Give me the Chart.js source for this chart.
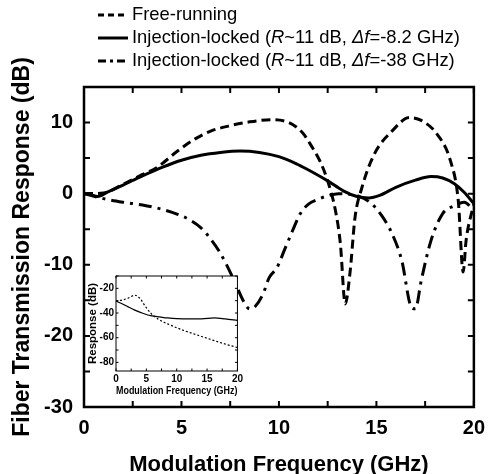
<!DOCTYPE html>
<html>
<head>
<meta charset="utf-8">
<script src="https://cdn.jsdelivr.net/npm/chart.js@4.4.1/dist/chart.umd.min.js"></script>
<style>
  body { margin: 0; background: #fff; }
  #wrap { position: relative; width: 494px; height: 474px; }
  #inset { position: absolute; left: 80px; top: 268px; }
</style>
</head>
<body>
<div id="wrap">
  <canvas id="main" width="494" height="474"></canvas>
  <canvas id="inset" width="165" height="130"></canvas>
</div>
<script>
// main panel: fiber transmission response, dB vs GHz
const freeFreq = [0, 1, 2, 3, 3.7, 4.8, 5.7, 6.5, 7.4, 8.5, 9.7, 10.5, 11.2, 11.6, 12.1, 12.5, 12.9, 13.15, 13.4, 13.65, 13.9, 14.25, 14.9, 15.8, 16.7, 17.3, 18.1, 18.8, 19.2, 19.45, 19.6, 19.95, 20];
const freeDb = [0, 0.1, 1.3, 2.7, 3.6, 6.0, 7.7, 8.8, 9.5, 10.1, 10.4, 10.0, 8.6, 7.0, 4.6, 1.8, -2.4, -7.0, -15.5, -11.0, -3.4, 0.8, 5.6, 8.8, 10.7, 10.3, 8.4, 4.6, -1.0, -11.0, -6.6, -2.0, -1.5];

const lockAFreq = [0, 0.3, 0.7, 1.2, 2, 3, 4, 5, 6, 7, 8, 9, 10, 10.9, 11.4, 12.5, 13.3, 14.0, 14.6, 15.2, 16, 17, 17.8, 18.4, 19, 19.5, 20];
const lockADb = [0, -0.1, -0.4, 0.2, 1.2, 2.5, 3.7, 4.7, 5.4, 5.8, 6.0, 5.8, 5.2, 4.2, 3.5, 1.8, 0.4, -0.4, -0.6, -0.2, 0.9, 1.9, 2.4, 2.2, 1.4, 0.2, -1.4];

const lockBFreq = [0, 1, 2, 3, 4, 4.8, 5.5, 6, 6.5, 7, 7.7, 8.2, 8.5, 8.8, 9.2, 9.5, 9.9, 10.3, 10.7, 11.1, 11.5, 12, 12.5, 13.05, 13.6, 14.05, 14.75, 15.3, 15.8, 16.3, 16.8, 17.0, 17.3, 17.8, 18.4, 19, 19.5, 20];
const lockBDb = [0, -0.7, -1.2, -1.6, -2.2, -2.9, -3.8, -4.8, -6.4, -8.4, -12.2, -15.2, -16.2, -15.8, -14.0, -11.8, -10.4, -7.8, -5.2, -2.8, -1.5, -0.8, -0.3, 0, -0.1, -0.3, -1.4, -3.2, -5.6, -9.4, -16.0, -16.2, -12.2, -6.6, -2.8, -1.7, -1.2, -2.4];

const xTickLabels = [0, 5, 10, 15, 20];
const yTickLabels = [10, 0, -10, -20, -30];

// inset: response (dB) vs GHz
const insetFreeFreq = [0, 1, 2, 3.1, 4.0, 4.8, 5.8, 6.9, 8.5, 11.3, 13.5, 15.7, 18.2, 20];
const insetFreeDb = [-30.4, -29.5, -28.0, -25.6, -28.5, -34.4, -40.5, -44.8, -48.8, -54.4, -58.0, -61.6, -65.5, -68.0];
const insetLockFreq = [0, 1, 2, 3.1, 4.4, 5.9, 7.2, 8.5, 10, 12.5, 14.1, 16.2, 18, 20];
const insetLockDb = [-30.4, -32.5, -35.0, -37.6, -40.2, -42.4, -43.2, -44.0, -44.6, -44.8, -44.8, -44.0, -44.8, -46.0];

const insetXTickLabels = [0, 5, 10, 15, 20];
const insetYTickLabels = [-20, -40, -60, -80];

const legendParts = [
  [['Free-running', false]],
  [['Injection-locked (', false], ['R', true], ['~11 dB, ', false], ['\u0394f', true], ['=-8.2 GHz)', false]],
  [['Injection-locked (', false], ['R', true], ['~11 dB, ', false], ['\u0394f', true], ['=-38 GHz)', false]]
];

Chart.defaults.color = '#000';
Chart.defaults.font.family = '"Liberation Sans", Arial, sans-serif';

function pts(xs, ys) {
  return xs.map((x, i) => ({ x: x, y: ys[i] }));
}

// box round the plot area, with inward ticks on all four sides
const framePlugin = {
  id: 'frame',
  beforeDatasetsDraw(chart, args, opts) {
    if (!opts.fill) return;
    const a = chart.chartArea;
    chart.ctx.save();
    chart.ctx.fillStyle = '#fff';
    chart.ctx.fillRect(a.left, a.top, a.right - a.left, a.bottom - a.top);
    chart.ctx.restore();
  },
  afterDatasetsDraw(chart, args, opts) {
    const ctx = chart.ctx;
    const a = chart.chartArea;
    const sx = chart.scales.x;
    const sy = chart.scales.y;
    ctx.save();
    ctx.strokeStyle = '#000';
    ctx.lineWidth = opts.tickWidth;
    ctx.beginPath();
    sx.ticks.forEach(t => {
      if (Math.abs(t.value / opts.xStep - Math.round(t.value / opts.xStep)) > 1e-6) return;
      const px = sx.getPixelForValue(t.value);
      ctx.moveTo(px, a.bottom);
      ctx.lineTo(px, a.bottom - opts.len);
      ctx.moveTo(px, a.top);
      ctx.lineTo(px, a.top + opts.len);
    });
    sy.ticks.forEach(t => {
      if (Math.abs(t.value / opts.yStep - Math.round(t.value / opts.yStep)) > 1e-6) return;
      const py = sy.getPixelForValue(t.value);
      ctx.moveTo(a.left, py);
      ctx.lineTo(a.left + opts.len, py);
      ctx.moveTo(a.right, py);
      ctx.lineTo(a.right - opts.len, py);
    });
    ctx.stroke();
    ctx.lineWidth = opts.width;
    ctx.strokeRect(a.left, a.top, a.right - a.left, a.bottom - a.top);
    ctx.restore();
  }
};

// legend above the plot, with italic R and delta-f
const legendPlugin = {
  id: 'paperLegend',
  afterDraw(chart, args, opts) {
    if (!opts.show) return;
    const ctx = chart.ctx;
    chart.data.datasets.forEach((ds, i) => {
      const y = opts.top + i * opts.row;
      ctx.save();
      ctx.strokeStyle = '#000';
      ctx.lineWidth = ds.borderWidth;
      ctx.setLineDash(opts.dashes[i]);
      ctx.beginPath();
      ctx.moveTo(opts.left, y);
      ctx.lineTo(opts.left + opts.sample, y);
      ctx.stroke();
      ctx.setLineDash([]);
      ctx.fillStyle = '#000';
      ctx.textBaseline = 'middle';
      let x = opts.left + opts.sample + 4;
      legendParts[i].forEach(p => {
        ctx.font = (p[1] ? 'italic ' : '') + opts.size + 'px "Liberation Sans", Arial, sans-serif';
        ctx.fillText(p[0], x, y);
        x += ctx.measureText(p[0]).width;
      });
      ctx.restore();
    });
  }
};

const mainChart = new Chart(document.getElementById('main'), {
  type: 'line',
  data: {
    datasets: [{
      label: 'Free-running',
      data: pts(freeFreq, freeDb),
      borderColor: '#000',
      borderWidth: 3,
      borderDash: [9, 5],
      pointRadius: 0,
      cubicInterpolationMode: 'monotone'
    }, {
      label: 'Injection-locked (R~11 dB, \u0394f=-8.2 GHz)',
      data: pts(lockAFreq, lockADb),
      borderColor: '#000',
      borderWidth: 3,
      pointRadius: 0,
      cubicInterpolationMode: 'monotone'
    }, {
      label: 'Injection-locked (R~11 dB, \u0394f=-38 GHz)',
      data: pts(lockBFreq, lockBDb),
      borderColor: '#000',
      borderWidth: 3,
      borderDash: [13, 6, 3, 6],
      pointRadius: 0,
      cubicInterpolationMode: 'monotone'
    }]
  },
  options: {
    responsive: false,
    animation: false,
    layout: { padding: { top: 87, right: 13, left: 0, bottom: 0 } },
    scales: {
      x: {
        type: 'linear',
        min: 0,
        max: 20,
        grid: { display: false, drawTicks: false },
        border: { display: false },
        afterFit: function (scale) { scale.height = 67; },
        ticks: {
          stepSize: 2.5,
          autoSkip: false,
          maxRotation: 0,
          padding: 9,
          font: { size: 20, weight: 'bold' },
          callback: v => xTickLabels.includes(v) ? String(v) : ''
        },
        title: {
          display: true,
          text: 'Modulation Frequency (GHz)',
          font: { size: 22, weight: 'bold', lineHeight: 0.82 },
          padding: { top: 0, bottom: 0 }
        }
      },
      y: {
        min: -30,
        max: 15,
        grid: { display: false, drawTicks: false },
        border: { display: false },
        afterFit: function (scale) { scale.width = 84; },
        ticks: {
          stepSize: 5,
          autoSkip: false,
          padding: 11,
          font: { size: 20, weight: 'bold' },
          callback: v => yTickLabels.includes(v) ? String(v) : ''
        },
        title: {
          display: true,
          text: 'Fiber Transmission Response (dB)',
          font: { size: 23, weight: 'bold', lineHeight: 1 },
          padding: { top: 11, bottom: 0 }
        }
      }
    },
    plugins: {
      legend: { display: false },
      tooltip: { enabled: false },
      frame: { width: 2.5, tickWidth: 2, len: 6, xStep: 2.5, yStep: 5, fill: false },
      paperLegend: { show: true, left: 98, top: 15, row: 23, sample: 30, size: 18.4, dashes: [[6, 4], [], [8, 4, 3, 4]] }
    }
  },
  plugins: [framePlugin, legendPlugin]
});

const insetChart = new Chart(document.getElementById('inset'), {
  type: 'line',
  data: {
    datasets: [{
      label: 'Free-running',
      data: pts(insetFreeFreq, insetFreeDb),
      borderColor: '#000',
      borderWidth: 1.2,
      borderDash: [2, 2],
      pointRadius: 0,
      cubicInterpolationMode: 'monotone'
    }, {
      label: 'Injection-locked',
      data: pts(insetLockFreq, insetLockDb),
      borderColor: '#000',
      borderWidth: 1.3,
      pointRadius: 0,
      cubicInterpolationMode: 'monotone'
    }]
  },
  options: {
    responsive: false,
    animation: false,
    layout: { padding: { top: 7, right: 7, left: 0, bottom: 0 } },
    scales: {
      x: {
        type: 'linear',
        min: 0,
        max: 20,
        grid: { display: false, drawTicks: false },
        border: { display: false },
        afterFit: function (scale) { scale.height = 27; },
        ticks: {
          stepSize: 2.5,
          autoSkip: false,
          maxRotation: 0,
          padding: 2,
          font: { size: 10, weight: 'bold' },
          callback: v => insetXTickLabels.includes(v) ? String(v) : ''
        },
        title: {
          display: true,
          text: 'Modulation Frequency (GHz)',
          font: { size: 10.5, weight: 'bold', lineHeight: 1 },
          padding: { top: 0, bottom: 2 }
        }
      },
      y: {
        min: -87,
        max: -10,
        grid: { display: false, drawTicks: false },
        border: { display: false },
        afterFit: function (scale) { scale.width = 36; },
        ticks: {
          stepSize: 10,
          autoSkip: false,
          includeBounds: false,
          padding: 2,
          font: { size: 10, weight: 'bold' },
          callback: v => insetYTickLabels.includes(v) ? String(v) : ''
        },
        title: {
          display: true,
          text: 'Response (dB)',
          font: { size: 11.5, weight: 'bold', lineHeight: 1 },
          padding: { top: 7, bottom: 0 }
        }
      }
    },
    plugins: {
      legend: { display: false },
      tooltip: { enabled: false },
      frame: { width: 1, tickWidth: 1, len: 2.5, xStep: 2.5, yStep: 10, fill: true },
      paperLegend: { show: false }
    }
  },
  plugins: [framePlugin, legendPlugin]
});
</script>
</body>
</html>
